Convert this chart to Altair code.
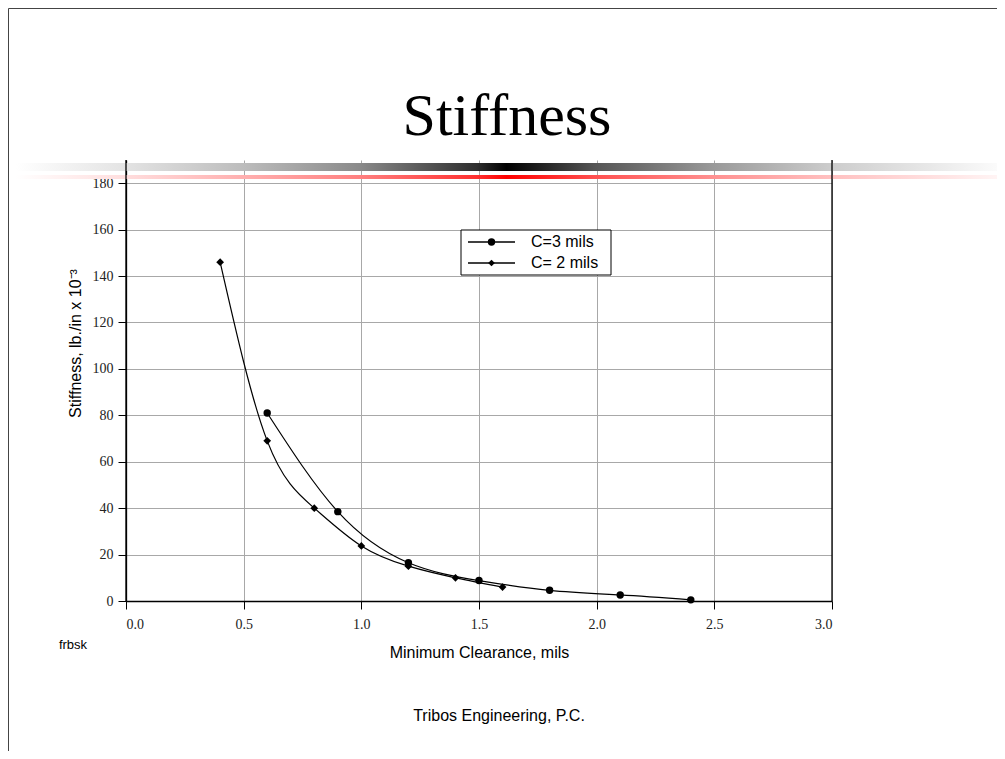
import altair as alt
import pandas as pd

# ---------------- data ----------------
SERIES = ["C=3 mils", "C= 2 mils"]
C3_X = [0.6, 0.9, 1.2, 1.5, 1.8, 2.1, 2.4]
C3_Y = [81.0, 38.5, 16.5, 8.8, 4.6, 2.6, 0.5]
C2_X = [0.4, 0.6, 0.8, 1.0, 1.2, 1.4, 1.6]
C2_Y = [146.0, 69.0, 40.0, 23.7, 15.0, 10.0, 6.0]
X_TICKS = [0.0, 0.5, 1.0, 1.5, 2.0, 2.5, 3.0]
Y_TICKS = [0, 20, 40, 60, 80, 100, 120, 140, 160, 180]
TITLE = "Stiffness"
X_TITLE = "Minimum Clearance, mils"
Y_TITLE = "Stiffness, lb./in x 10\u207b\u00b3"
FOOTER = "Tribos Engineering, P.C."
CODE = "frbsk"

df = pd.DataFrame({
    "series": [SERIES[0]] * len(C3_X) + [SERIES[1]] * len(C2_X),
    "x": C3_X + C2_X,
    "y": C3_Y + C2_Y,
})

SANS = "Liberation Sans"
SERIF = "Liberation Serif"

X_ENC = alt.X("x:Q", scale=alt.Scale(domain=[0, 3], nice=False, zero=False),
              axis=alt.Axis(values=X_TICKS, format=".1f", title=X_TITLE,
                            titleY=51, titleBaseline="middle"))
Y_ENC = alt.Y("y:Q", scale=alt.Scale(domain=[0, 190], nice=False),
              axis=alt.Axis(values=Y_TICKS, title=Y_TITLE, titleX=-51, titleY=183,
                            titleAngle=270, titleAlign="center", titleBaseline="middle"))

one = lambda v: pd.DataFrame({"label": [v]})

# decorative template bars (gradients)
gray_grad = alt.Gradient(
    gradient="linear", x1=0, x2=1, y1=0, y2=0,
    stops=[alt.GradientStop(offset=0.0, color="#ffffff"),
           alt.GradientStop(offset=0.11, color="#e4e4e4"),
           alt.GradientStop(offset=0.23, color="#bdbdbd"),
           alt.GradientStop(offset=0.35, color="#8a8a8a"),
           alt.GradientStop(offset=0.47, color="#2e2e2e"),
           alt.GradientStop(offset=0.5, color="#000000"),
           alt.GradientStop(offset=0.59, color="#555555"),
           alt.GradientStop(offset=0.71, color="#999999"),
           alt.GradientStop(offset=0.83, color="#cccccc"),
           alt.GradientStop(offset=1.0, color="#fbfbfb")])
red_grad = alt.Gradient(
    gradient="linear", x1=0, x2=1, y1=0, y2=0,
    stops=[alt.GradientStop(offset=0.0, color="#ffffff"),
           alt.GradientStop(offset=0.11, color="#ffdede"),
           alt.GradientStop(offset=0.23, color="#ffb0b0"),
           alt.GradientStop(offset=0.35, color="#ff8080"),
           alt.GradientStop(offset=0.47, color="#ff3030"),
           alt.GradientStop(offset=0.5, color="#ff0000"),
           alt.GradientStop(offset=0.59, color="#ff5050"),
           alt.GradientStop(offset=0.71, color="#ff9090"),
           alt.GradientStop(offset=0.83, color="#ffc0c0"),
           alt.GradientStop(offset=1.0, color="#fff4f4")])

gray_bar = alt.Chart(one("g")).mark_rect(fill=gray_grad).encode(
    x=alt.value(-110), x2=alt.value(871), y=alt.value(3), y2=alt.value(11))
red_bar = alt.Chart(one("r")).mark_rect(fill=red_grad).encode(
    x=alt.value(-110), x2=alt.value(871), y=alt.value(15), y2=alt.value(19))

# slide border lines
top_line = alt.Chart(one("t")).mark_rule(color="#444444", strokeWidth=1).encode(
    x=alt.value(-117.5), x2=alt.value(871), y=alt.value(-151.5))
left_line = alt.Chart(one("l")).mark_rule(color="#444444", strokeWidth=1).encode(
    x=alt.value(-117.5), y=alt.value(-151.5), y2=alt.value(591))

# frame rules (left axis line and right border at x=3)
frame = alt.Chart(pd.DataFrame({"x": [0.0, 3.0]})).mark_rule(color="black", strokeWidth=1.3).encode(
    x=X_ENC)

lines = alt.Chart(df).mark_line(interpolate="natural", color="black", strokeWidth=1.2).encode(
    x=X_ENC, y=Y_ENC, detail="series:N")

pts_c3 = alt.Chart(df).transform_filter(alt.datum.series == SERIES[0]).mark_point(
    shape="circle", filled=True, color="black", size=55, opacity=1).encode(x=X_ENC, y=Y_ENC)
pts_c2 = alt.Chart(df).transform_filter(alt.datum.series == SERIES[1]).mark_point(
    shape="diamond", filled=True, color="black", size=60, opacity=1).encode(x=X_ENC, y=Y_ENC)

# legend (drawn box with sample line + marker for each series)
LEG_X0, LEG_X1, LEG_Y0, LEG_Y1 = 335, 485, 70, 115
leg_box = alt.Chart(one("box")).mark_rect(fill="white", stroke="black", strokeWidth=1).encode(
    x=alt.value(LEG_X0), x2=alt.value(LEG_X1), y=alt.value(LEG_Y0), y2=alt.value(LEG_Y1))
leg_layers = []
for i, (name, shp, sz) in enumerate([(SERIES[0], "circle", 55), (SERIES[1], "diamond", 45)]):
    ry = 82 + 21 * i
    leg_layers.append(alt.Chart(one(name)).mark_rule(color="black", strokeWidth=1.7).encode(
        x=alt.value(342), x2=alt.value(389), y=alt.value(ry)))
    leg_layers.append(alt.Chart(one(name)).mark_point(shape=shp, filled=True, color="black",
                                                      size=sz, opacity=1).encode(
        x=alt.value(365.5), y=alt.value(ry)))
    leg_layers.append(alt.Chart(one(name)).mark_text(align="left", baseline="middle", font=SANS,
                                                     fontSize=16, color="black").encode(
        x=alt.value(405), y=alt.value(ry), text="label:N"))

title_txt = alt.Chart(one(TITLE)).mark_text(font=SERIF, fontSize=60, color="black",
                                            align="center", baseline="alphabetic").encode(
    x=alt.value(381), y=alt.value(-25), text="label:N")
footer_txt = alt.Chart(one(FOOTER)).mark_text(font=SANS, fontSize=16, color="black",
                                              align="center", baseline="middle").encode(
    x=alt.value(373), y=alt.value(556), text="label:N")
code_txt = alt.Chart(one(CODE)).mark_text(font=SANS, fontSize=13, color="black",
                                          align="center", baseline="middle").encode(
    x=alt.value(-53), y=alt.value(485), text="label:N")

chart = alt.layer(
    gray_bar, red_bar, top_line, left_line, lines, frame, pts_c3, pts_c2,
    leg_box, *leg_layers, title_txt, footer_txt, code_txt,
).properties(
    width=706, height=441,
    autosize=alt.AutoSizeParams(type="none"),
    padding={"left": 118, "top": 152, "right": 165, "bottom": 150},
).configure_view(stroke=None).configure_axis(
    domainColor="black", domainWidth=1.3, tickColor="black", tickSize=8, tickWidth=1,
    labelFont=SERIF, labelFontSize=14, labelColor="#222222",
    gridColor="#a8a8a8", gridWidth=1,
    titleFont=SANS, titleFontSize=16, titleFontWeight="normal", titleColor="black",
).configure_axisX(labelPadding=8).configure_axisY(labelPadding=5)

chart.save("out.html", embed_options={"renderer": "svg", "actions": False})
